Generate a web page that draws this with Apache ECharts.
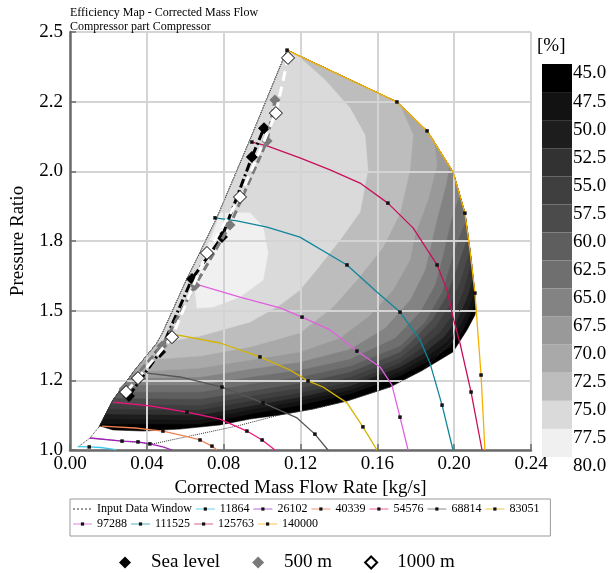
<!DOCTYPE html>
<html>
<head>
<meta charset="utf-8">
<script src="https://cdn.jsdelivr.net/npm/echarts@6.0.0/dist/echarts.min.js"></script>
<style>
html, body { margin: 0; padding: 0; background: #fff; }
#main { width: 611px; height: 573px; }
</style>
</head>
<body>
<div id="main"></div>
<script>
// tick labels
const yTicks = [1.0, 1.25, 1.5, 1.75, 2.0, 2.25, 2.5];
const yTickLabels = ['1.0', '1.2', '1.5', '1.8', '2.0', '2.2', '2.5'];

// efficiency bands [%] and their grey levels
const effLevels = [45, 47.5, 50, 52.5, 55, 57.5, 60, 62.5, 65, 67.5, 70, 72.5, 75, 77.5];
const bandColors = ['#000000', '#121212', '#1d1d1d', '#323232', '#3f3f3f', '#4b4b4b', '#5e5e5e',
  '#6f6f6f', '#838383', '#999999', '#a9a9a9', '#bdbdbd', '#dadada', '#f0f0f0'];

// map boundaries [mass flow, pressure ratio]
const surgeLine = [[0.0151, 1.083], [0.0224, 1.179], [0.0338, 1.287], [0.0453, 1.384], [0.0484, 1.423],
  [0.0599, 1.599], [0.0765, 1.833], [0.0937, 2.112], [0.1130, 2.435]];
const mapBottom = [[0.2114, 1.502], [0.2108, 1.484], [0.2067, 1.431], [0.1994, 1.352], [0.1838, 1.287],
  [0.1666, 1.226], [0.1442, 1.176], [0.1265, 1.147], [0.1093, 1.126], [0.0937, 1.111], [0.0781, 1.090],
  [0.0573, 1.075], [0.0380, 1.068], [0.0224, 1.072], [0.0156, 1.086]];

// efficiency iso-lines, from surge side to the top speed line
const iso475 = [[0.0159, 1.093], [0.0677, 1.093], [0.0937, 1.129], [0.1197, 1.161], [0.1458, 1.201], [0.1718, 1.266],
  [0.1848, 1.312], [0.1978, 1.370], [0.2046, 1.431], [0.2082, 1.484], [0.2111, 1.531]];
const iso500 = [[0.0172, 1.111], [0.0677, 1.108], [0.0937, 1.144], [0.1197, 1.176], [0.1458, 1.215], [0.1718, 1.280],
  [0.1848, 1.330], [0.1963, 1.388], [0.2030, 1.445], [0.2072, 1.502], [0.2107, 1.567]];
const iso525 = [[0.0186, 1.129], [0.0677, 1.126], [0.0937, 1.158], [0.1197, 1.190], [0.1458, 1.230], [0.1718, 1.298],
  [0.1833, 1.344], [0.1947, 1.406], [0.2015, 1.467], [0.2062, 1.538], [0.2099, 1.617]];
const iso550 = [[0.0199, 1.147], [0.0677, 1.144], [0.0937, 1.176], [0.1197, 1.205], [0.1458, 1.244], [0.1718, 1.312],
  [0.1822, 1.362], [0.1926, 1.423], [0.1999, 1.492], [0.2046, 1.567], [0.2089, 1.675]];
const iso575 = [[0.0213, 1.165], [0.0677, 1.161], [0.0937, 1.194], [0.1197, 1.222], [0.1458, 1.262], [0.1718, 1.330],
  [0.1807, 1.380], [0.1905, 1.445], [0.1978, 1.520], [0.2030, 1.603], [0.2082, 1.718]];
const iso600 = [[0.0232, 1.187], [0.0677, 1.183], [0.0937, 1.212], [0.1197, 1.240], [0.1458, 1.280], [0.1718, 1.352],
  [0.1791, 1.398], [0.1885, 1.467], [0.1957, 1.549], [0.2010, 1.646], [0.2046, 1.718], [0.2072, 1.768]];
const iso625 = [[0.0255, 1.208], [0.0677, 1.208], [0.0937, 1.237], [0.1197, 1.262], [0.1458, 1.301], [0.1718, 1.373],
  [0.1848, 1.459], [0.1937, 1.567], [0.1984, 1.675], [0.2020, 1.754], [0.2061, 1.825]];
const iso650 = [[0.0281, 1.233], [0.0677, 1.233], [0.0937, 1.262], [0.1197, 1.287], [0.1458, 1.327], [0.1692, 1.402],
  [0.1822, 1.495], [0.1900, 1.592], [0.1942, 1.700], [0.1978, 1.807], [0.2010, 1.879], [0.2029, 1.915]];
const iso675 = [[0.0308, 1.258], [0.0677, 1.262], [0.0937, 1.291], [0.1197, 1.316], [0.1458, 1.362], [0.1640, 1.438],
  [0.1770, 1.538], [0.1848, 1.646], [0.1885, 1.754], [0.1916, 1.843], [0.1957, 1.951], [0.1975, 2.019]];
const iso700 = [[0.0331, 1.280], [0.0677, 1.294], [0.0937, 1.323], [0.1197, 1.352], [0.1406, 1.402], [0.1562, 1.484],
  [0.1682, 1.574], [0.1770, 1.682], [0.1796, 1.772], [0.1864, 1.897], [0.1911, 2.023], [0.1895, 2.112], [0.1874, 2.129]];
const iso725 = [[0.0381, 1.323], [0.0677, 1.337], [0.0937, 1.370], [0.1197, 1.420], [0.1369, 1.513], [0.1494, 1.610],
  [0.1630, 1.728], [0.1718, 1.850], [0.1770, 2.005], [0.1786, 2.130], [0.1718, 2.238]];
const iso750 = [[0.0453, 1.384], [0.0677, 1.409], [0.0937, 1.459], [0.1093, 1.520], [0.1197, 1.574], [0.1291, 1.653],
  [0.1406, 1.754], [0.1510, 1.854], [0.1551, 2.005], [0.1536, 2.130], [0.1458, 2.227], [0.1328, 2.328],
  [0.1223, 2.392], [0.1177, 2.420]];
const island775 = [[0.0781, 1.851], [0.0937, 1.851], [0.1005, 1.800], [0.1031, 1.707], [0.1005, 1.610], [0.0885, 1.549],
  [0.0744, 1.513], [0.0661, 1.510], [0.0651, 1.574], [0.0713, 1.729], [0.0765, 1.815]];

// speed lines [mass flow, pressure ratio, marker]
const sp11864 = [[0.0040, 1.012, 0], [0.0100, 1.011, 1], [0.0160, 1.009, 0], [0.0220, 1.003, 0], [0.0240, 1.000, 0]];
const sp26102 = [[0.0104, 1.043, 0], [0.0271, 1.032, 1], [0.0354, 1.029, 1], [0.0416, 1.022, 1], [0.0484, 1.011, 0],
  [0.0531, 1.000, 0]];
const sp40339 = [[0.0167, 1.086, 0], [0.0338, 1.079, 0], [0.0484, 1.068, 1], [0.0599, 1.050, 0], [0.0677, 1.036, 1],
  [0.0739, 1.014, 1], [0.0765, 1.000, 0]];
const sp54576 = [[0.0224, 1.172, 0], [0.0416, 1.158, 0], [0.0609, 1.136, 1], [0.0781, 1.111, 0], [0.0921, 1.068, 1],
  [0.1000, 1.036, 1], [0.1067, 1.000, 0]];
const sp68814 = [[0.0401, 1.276, 0], [0.0573, 1.262, 0], [0.0791, 1.226, 1], [0.1005, 1.169, 1], [0.1182, 1.115, 0],
  [0.1275, 1.057, 1], [0.1343, 1.000, 0]];
const sp83051 = [[0.0557, 1.413, 0], [0.0781, 1.384, 0], [0.0989, 1.334, 1], [0.1145, 1.287, 0], [0.1239, 1.248, 1],
  [0.1317, 1.226, 0], [0.1442, 1.169, 0], [0.1525, 1.083, 1], [0.1598, 1.000, 0]];
const sp97288 = [[0.0651, 1.596, 0], [0.0885, 1.549, 0], [0.1093, 1.510, 0], [0.1208, 1.477, 1], [0.1354, 1.431, 0],
  [0.1494, 1.355, 1], [0.1614, 1.298, 0], [0.1676, 1.233, 0], [0.1718, 1.118, 1], [0.1760, 1.000, 0]];
const sp111525 = [[0.0755, 1.833, 1], [0.0869, 1.822, 0], [0.1026, 1.800, 0], [0.1197, 1.764, 0], [0.1442, 1.664, 1],
  [0.1598, 1.567, 0], [0.1718, 1.495, 1], [0.1822, 1.395, 0], [0.1874, 1.312, 0], [0.1937, 1.161, 1], [0.1994, 1.000, 0]];
const sp125763 = [[0.0947, 2.105, 1], [0.1026, 2.091, 0], [0.1197, 2.048, 0], [0.1354, 2.005, 0], [0.1510, 1.958, 0],
  [0.1655, 1.886, 1], [0.1786, 1.797, 0], [0.1911, 1.664, 1], [0.1963, 1.574, 0], [0.1994, 1.477, 0],
  [0.2030, 1.384, 0], [0.2088, 1.208, 1], [0.2145, 1.000, 0]];
const sp140000 = [[0.1130, 2.435, 1], [0.1702, 2.249, 1], [0.1859, 2.145, 1], [0.1994, 1.998, 0], [0.2056, 1.850, 1],
  [0.2082, 1.718, 0], [0.2108, 1.563, 1], [0.2140, 1.269, 1], [0.2160, 1.000, 0]];

const inputWindow = [[0.0042, 1.011], [0.0104, 1.043], [0.0151, 1.083], [0.0224, 1.179], [0.0338, 1.287],
  [0.0453, 1.384], [0.0484, 1.423], [0.0599, 1.599], [0.0765, 1.833], [0.0937, 2.112], [0.1130, 2.435],
  [0.1702, 2.249], [0.1859, 2.145], [0.1994, 1.998], [0.2056, 1.850], [0.2093, 1.664], [0.2067, 1.599],
  [0.2015, 1.467], [0.1994, 1.395], [0.1838, 1.287], [0.1666, 1.226], [0.1442, 1.176], [0.1265, 1.147],
  [0.1093, 1.126], [0.0869, 1.086], [0.0432, 1.022], [0.0104, 1.043]];

// operating lines
const seaLevel = [[0.0307, 1.194], [0.0469, 1.352], [0.0635, 1.614], [0.0791, 1.764], [0.0947, 2.051], [0.1010, 2.155]];
const alt500 = [[0.0281, 1.219], [0.0479, 1.373], [0.0651, 1.590], [0.0833, 1.807], [0.1026, 2.109], [0.1067, 2.256]];
const alt1000 = [[0.0292, 1.208], [0.0354, 1.258], [0.0531, 1.405], [0.0713, 1.707], [0.0885, 1.908], [0.1072, 2.209],
  [0.1135, 2.407]];

const speedNames = ['11864', '26102', '40339', '54576', '68814', '83051', '97288', '111525', '125763', '140000'];
const speedData = [sp11864, sp26102, sp40339, sp54576, sp68814, sp83051, sp97288, sp111525, sp125763, sp140000];
const speedColors = ['#3ec8ee', '#a020b8', '#f08050', '#f0147f', '#555555', '#d4b400', '#e060e0', '#10869a', '#c8105a', '#f5b000'];
const legendColors = ['#aee8f6', '#dcb0e8', '#f8ccb8', '#f8b0d0', '#c4c4c4', '#f0e4a8', '#f0c0f0', '#a8d8e0', '#eab0c8', '#fce0a8'];

const FONT = 'Liberation Serif';

// region where efficiency >= level: iso-line, then top speed line back up, then surge line down
const topLine = sp140000.map(p => [p[0], p[1]]);
function superLevel(iso) {
  const sy = iso[0][1];
  const ey = iso[iso.length - 1][1];
  const topPart = topLine.filter(p => p[1] > ey).reverse();
  const surgePart = surgeLine.filter(p => p[1] > sy).reverse();
  return iso.concat(topPart, surgePart);
}
const domain = surgeLine.concat(topLine.filter(p => p[1] > 1.502), mapBottom);
const isolines = [iso475, iso500, iso525, iso550, iso575, iso600, iso625, iso650, iso675, iso700, iso725, iso750];
const bandPolys = [domain].concat(isolines.map(superLevel), [island775]);

const chart = echarts.init(document.getElementById('main'));

const series = [];
series.push({
  type: 'custom',
  silent: true,
  z: 0,
  xAxisIndex: 0,
  yAxisIndex: 0,
  data: bandPolys.map(p => p[0]),
  renderItem: (params, api) => {
    const poly = bandPolys[params.dataIndex];
    const col = bandColors[params.dataIndex];
    return {
      type: 'polygon',
      shape: { points: poly.map(p => api.coord(p)) },
      style: { fill: col, stroke: col, lineWidth: 0.5 }
    };
  }
});
series.push({
  name: 'Input Data Window',
  type: 'line',
  silent: true,
  z: 3,
  data: inputWindow,
  symbol: 'none',
  lineStyle: { color: '#333', width: 1, type: 'dotted' }
});
speedData.forEach((pts, i) => {
  series.push({
    name: speedNames[i],
    type: 'line',
    silent: true,
    z: 3,
    data: pts.map(p => ({ value: [p[0], p[1]], symbol: p[2] ? 'rect' : 'none' })),
    symbol: 'rect',
    symbolSize: 3.5,
    itemStyle: { color: '#111' },
    lineStyle: { color: speedColors[i], width: 1.3 }
  });
});
series.push({
  name: 'Sea level', type: 'line', silent: true, z: 5, data: seaLevel,
  symbol: 'diamond', symbolSize: 12,
  itemStyle: { color: '#000' },
  lineStyle: { color: '#000', width: 3, type: [9, 3, 2, 3] }
});
series.push({
  name: '500 m', type: 'line', silent: true, z: 6, data: alt500,
  symbol: 'diamond', symbolSize: 11,
  itemStyle: { color: '#7a7a7a' },
  lineStyle: { color: '#7a7a7a', width: 3, type: [8, 4] }
});
series.push({
  name: '1000 m', type: 'line', silent: true, z: 7, data: alt1000,
  symbol: 'diamond', symbolSize: 13,
  itemStyle: { color: '#fff', borderColor: '#000', borderWidth: 1 },
  lineStyle: { color: '#fff', width: 3, type: [10, 6] }
});
// colour bar
series.push({
  type: 'custom',
  silent: true,
  xAxisIndex: 1,
  yAxisIndex: 1,
  data: effLevels.map(v => [0, v]),
  renderItem: (params, api) => {
    const lo = api.value(1);
    const a = api.coord([0, lo]);
    const b = api.coord([1, lo + 2.5]);
    return {
      type: 'rect',
      shape: { x: a[0], y: Math.min(a[1], b[1]), width: b[0] - a[0], height: Math.abs(b[1] - a[1]) },
      style: { fill: bandColors[params.dataIndex] }
    };
  }
});

const option = {
  animation: false,
  textStyle: { fontFamily: FONT },
  title: [
    {
      text: 'Efficiency Map - Corrected Mass Flow\nCompressor part Compressor',
      left: 70, top: 6, padding: 0,
      textStyle: { fontFamily: FONT, fontSize: 12, fontWeight: 'normal', lineHeight: 14, color: '#000' }
    },
    {
      text: '[%]', left: 537, top: 37, padding: 0,
      textStyle: { fontFamily: FONT, fontSize: 19, fontWeight: 'normal', color: '#000' }
    }
  ],
  grid: [
    { left: 70, top: 32, width: 461, height: 418, show: true, borderColor: '#333', borderWidth: 1 },
    { left: 542, top: 64, width: 30, height: 393 }
  ],
  xAxis: [
    {
      type: 'value', min: 0, max: 0.24, interval: 0.04, z: 1,
      name: 'Corrected Mass Flow Rate [kg/s]', nameLocation: 'middle', nameGap: 21,
      nameTextStyle: { fontFamily: FONT, fontSize: 19, color: '#000' },
      axisLine: { lineStyle: { color: '#6b6b6b', width: 2.5 } },
      axisTick: { inside: true, length: 6, lineStyle: { color: '#6b6b6b', width: 1.5 } },
      axisLabel: { formatter: v => v.toFixed(2), fontFamily: FONT, fontSize: 19, color: '#000', margin: 5 },
      splitLine: { show: true, lineStyle: { color: '#d4d4d4', width: 2 } }
    },
    { gridIndex: 1, type: 'value', min: 0, max: 1, show: false }
  ],
  yAxis: [
    {
      type: 'value', min: 1.0, max: 2.5, interval: 0.25, z: 1,
      name: 'Pressure Ratio', nameLocation: 'middle', nameGap: 42,
      nameTextStyle: { fontFamily: FONT, fontSize: 19, color: '#000' },
      axisLine: { show: true, lineStyle: { color: '#6b6b6b', width: 2.5 } },
      axisTick: { show: true, inside: true, length: 6, lineStyle: { color: '#6b6b6b', width: 1.5 } },
      axisLabel: {
        formatter: v => {
          let best = 0;
          yTicks.forEach((t, i) => { if (Math.abs(t - v) < Math.abs(yTicks[best] - v)) best = i; });
          return yTickLabels[best];
        },
        fontFamily: FONT, fontSize: 19, color: '#000', margin: 7
      },
      splitLine: { show: true, lineStyle: { color: '#d4d4d4', width: 2 } }
    },
    {
      gridIndex: 1, type: 'value', min: 45, max: 80, interval: 2.5, inverse: true, position: 'right',
      axisLine: { show: false }, axisTick: { show: false }, splitLine: { show: false },
      axisLabel: { formatter: v => v.toFixed(1), fontFamily: FONT, fontSize: 19, color: '#000',
        margin: 1, verticalAlign: 'top' }
    }
  ],
  legend: [
    {
      left: 70, top: 499, width: 470,
      padding: [4, 11, 6, 2],
      borderColor: '#9a9a9a', borderWidth: 1,
      itemWidth: 19, itemHeight: 4, itemGap: 3,
      selectedMode: false,
      textStyle: { fontFamily: FONT, fontSize: 12, color: '#000' },
      lineStyle: { width: 2 },
      data: [{ name: 'Input Data Window', itemStyle: { color: 'rgba(0,0,0,0)' }, lineStyle: { color: '#999' } }]
        .concat(speedNames.map((n, i) => ({ name: n, itemStyle: { color: '#111' }, lineStyle: { color: legendColors[i], type: 'solid' } })))
    },
    {
      left: 114, top: 548,
      icon: 'diamond', itemWidth: 12, itemHeight: 12, itemGap: 32,
      selectedMode: false,
      textStyle: { fontFamily: FONT, fontSize: 19, color: '#000', padding: [0, 0, 0, 15] },
      data: ['Sea level', '500 m', '1000 m']
    }
  ],
  series: series
};

chart.setOption(option);
</script>
</body>
</html>
